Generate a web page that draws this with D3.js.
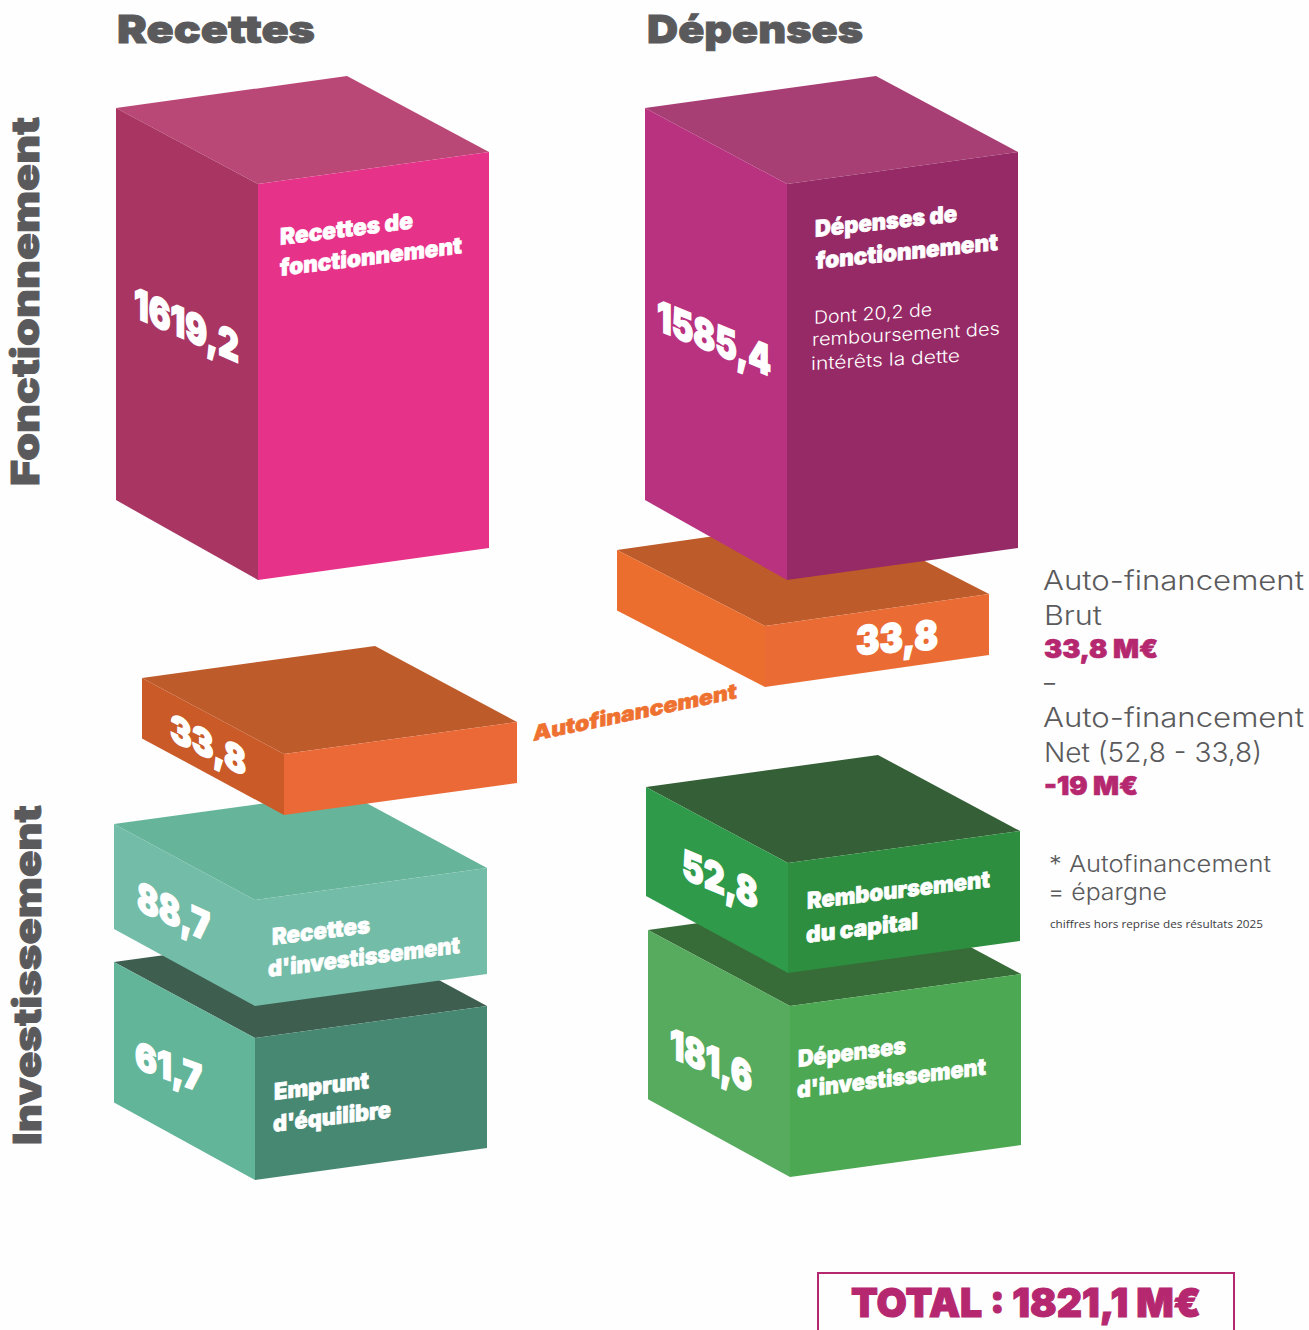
<!DOCTYPE html>
<html lang="fr">
<head>
<meta charset="utf-8">
<title>Recettes et dépenses</title>
<script src="https://cdn.jsdelivr.net/npm/d3@7"></script>
<style>
  html, body { margin: 0; background: #fefefe; overflow: hidden; }
  svg { display: block; }
</style>
</head>
<body>
<div id="chart"></div>
<script>
// values (order = paint order, back to front)
const blockNames = ["Emprunt", "RecettesInv", "AutofinR", "DepensesInv", "Remboursement", "AutofinD", "DepensesFonct", "RecettesFonct"];
const blockValues = [61.7, 88.7, 33.8, 181.6, 52.8, 33.8, 1585.4, 1619.2];
const totalValue = 1821.1;
const columnTitles = ["Recettes", "Dépenses"];
const rowTitles = ["Fonctionnement", "Investissement"];
const sideBrut = ["Auto-financement", "Brut", "33,8 M€"];
const sideNet = ["Auto-financement", "Net (52,8 - 33,8)", "-19 M€"];
const sideNote = ["* Autofinancement", "= épargne", "chiffres hors reprise des résultats 2025"];

// the blocks in the picture are not to scale, so the height scale is piecewise
const heightStops = [33.8, 52.8, 61.7, 88.7, 181.6, 1585.4, 1619.2];
const heightPixels = [61, 110, 142, 106, 171, 396, 396];

// front bottom corner of each block, and how far its two sides run
const frontX = [255, 255, 284, 790, 788, 765, 787, 258];
const frontY = [1180, 1006, 815, 1177, 973, 687, 580, 580];
const leftRuns = [141, 141, 142, 142, 142, 148, 142, 142];
const rightRuns = [232, 232, 233, 231, 232, 224, 231, 231];

const topColors = ["#3e5e50", "#66b59a", "#bd5b2a", "#376b37", "#355f36", "#bd5b2a", "#a73f74", "#ba4877"];
const leftColors = ["#62b599", "#73bca8", "#ca5a28", "#57ab5e", "#2f9a49", "#eb6e2e", "#b93280", "#a83562"];
const rightColors = ["#478873", "#73bca8", "#ea6937", "#4da853", "#2c8e3e", "#ea6c34", "#962a66", "#e7328a"];

const width = 1309, height = 1330;
const leftRise = -76, rightRise = -32, leftTaper = 0.99;
const heavy = "Inter, sans-serif", light = "Inter, sans-serif";
const grey = "#5a5a5c", plum = "#b5286f", white = "#ffffff";

const fr = d3.formatLocale({ decimal: ",", thousands: "", grouping: [3], currency: ["", " M€"] });
const fmt = fr.format(".1f");

const heightScale = d3.scaleLinear().domain(heightStops).range(heightPixels);
const xScale = d3.scaleOrdinal(blockNames, frontX);
const yScale = d3.scaleOrdinal(blockNames, frontY);
const leftRun = d3.scaleOrdinal(blockNames, leftRuns);
const rightRun = d3.scaleOrdinal(blockNames, rightRuns);
const topColor = d3.scaleOrdinal(blockNames, topColors);
const leftColor = d3.scaleOrdinal(blockNames, leftColors);
const rightColor = d3.scaleOrdinal(blockNames, rightColors);

const svg = d3.select("#chart").append("svg")
  .attr("width", width)
  .attr("height", height)
  .attr("viewBox", "0 0 " + width + " " + height);

const blocks = blockNames.map((name, i) => ({ name: name, value: blockValues[i] }));
const line = d3.line();

function faces(d) {
  const x = xScale(d.name), y = yScale(d.name), h = heightScale(d.value);
  const ft = [x, y - h], fb = [x, y];
  const lt = [x - leftRun(d.name), y - h + leftRise];
  const rt = [x + rightRun(d.name), y - h + rightRise];
  const bk = [lt[0] + rightRun(d.name), lt[1] + rightRise];
  const lb = [lt[0], lt[1] + h * leftTaper];
  const rb = [rt[0], rt[1] + h];
  return { top: [ft, lt, bk, rt], left: [ft, lt, lb, fb], right: [ft, rt, rb, fb] };
}

const blockG = svg.selectAll("g.block")
  .data(blocks)
  .join("g")
  .attr("class", "block");

blockG.append("path")
  .attr("d", d => line(faces(d).top) + "Z")
  .attr("fill", d => topColor(d.name));
blockG.append("path")
  .attr("d", d => line(faces(d).left) + "Z")
  .attr("fill", d => leftColor(d.name));
blockG.append("path")
  .attr("d", d => line(faces(d).right) + "Z")
  .attr("fill", d => rightColor(d.name));

// text painted on the faces: [text, x, y, slope, width, size]
const v = name => fmt(blockValues[blockNames.indexOf(name)]);
const faceLabels = [
  ["Recettes de", 280, 245, -0.125, 133, 23],
  ["fonctionnement", 280, 276, -0.125, 182, 23],
  [v("RecettesFonct"), 134, 317, 0.44, 105, 42],
  ["Dépenses de", 815, 237, -0.11, 142, 23],
  ["fonctionnement", 816, 269, -0.105, 182, 23],
  [v("DepensesFonct"), 657, 330, 0.41, 114, 42],
  [v("AutofinR"), 170, 740, 0.48, 76, 38],
  [v("AutofinD"), 856, 655, -0.075, 82, 40],
  [v("RecettesInv"), 137, 910, 0.45, 73, 41],
  ["Recettes", 272, 945, -0.125, 98, 23],
  ["d'investissement", 268, 977, -0.125, 192, 23],
  [v("Emprunt"), 135, 1068, 0.37, 67, 38],
  ["Emprunt", 274, 1100, -0.125, 95, 23],
  ["d'équilibre", 273, 1132, -0.125, 118, 23],
  [v("Remboursement"), 682, 878, 0.42, 76, 41],
  ["Remboursement", 807, 909, -0.12, 183, 23],
  ["du capital", 806, 943, -0.125, 112, 23],
  [v("DepensesInv"), 670, 1057, 0.44, 82, 41],
  ["Dépenses", 798, 1067, -0.125, 108, 23],
  ["d'investissement", 797, 1098, -0.125, 189, 23]
];

svg.append("g").selectAll("text")
  .data(faceLabels)
  .join("text")
  .attr("transform", d => "matrix(1," + d[3] + ",0,1," + d[1] + "," + d[2] + ")")
  .attr("font-family", heavy)
  .attr("font-weight", 900)
  .attr("font-size", d => d[5])
  .attr("fill", white)
  .attr("stroke", white)
  .attr("stroke-width", d => d[5] > 30 ? 1.5 : 0.7)
  .attr("textLength", d => d[4])
  .attr("lengthAdjust", "spacingAndGlyphs")
  .text(d => d[0]);

// light note on the plum face
const noteLines = [
  ["Dont 20,2 de", 814, 324, -0.07, 118],
  ["remboursement des", 812, 346, -0.06, 188],
  ["intérêts la dette", 811, 370, -0.055, 149]
];
svg.append("g").selectAll("text")
  .data(noteLines)
  .join("text")
  .attr("transform", d => "matrix(1," + d[3] + ",0,1," + d[1] + "," + d[2] + ")")
  .attr("font-family", light)
  .attr("font-weight", 300)
  .attr("font-size", 18)
  .attr("fill", white)
  .attr("textLength", d => d[4])
  .attr("lengthAdjust", "spacingAndGlyphs")
  .text(d => d[0]);

// Autofinancement, between the two orange blocks
svg.append("text")
  .attr("transform", "matrix(1,-0.21,0,1,533,741)")
  .attr("font-family", heavy)
  .attr("font-weight", 900)
  .attr("font-size", 21)
  .attr("fill", "#ee7130")
  .attr("stroke", "#ee7130")
  .attr("stroke-width", 0.6)
  .attr("textLength", 204)
  .attr("lengthAdjust", "spacingAndGlyphs")
  .text("Autofinancement");

// column and row titles
const titleX = d3.scalePoint().domain(columnTitles).range([117, 647]);
svg.selectAll("text.col")
  .data(columnTitles)
  .join("text")
  .attr("class", "col")
  .attr("x", d => titleX(d))
  .attr("y", 43)
  .attr("font-family", heavy)
  .attr("font-weight", 900)
  .attr("font-size", 39)
  .attr("fill", grey)
  .attr("stroke", grey)
  .attr("stroke-width", 0.9)
  .attr("textLength", (d, i) => [198, 216][i])
  .attr("lengthAdjust", "spacingAndGlyphs")
  .text(d => d);

svg.selectAll("text.row")
  .data(rowTitles)
  .join("text")
  .attr("class", "row")
  .attr("transform", (d, i) => "translate(" + [39, 41][i] + "," + [486, 1145][i] + ") rotate(-90)")
  .attr("font-family", heavy)
  .attr("font-weight", 900)
  .attr("font-size", 39)
  .attr("fill", grey)
  .attr("stroke", grey)
  .attr("stroke-width", 0.9)
  .attr("textLength", (d, i) => [369, 340][i])
  .attr("lengthAdjust", "spacingAndGlyphs")
  .text(d => d);

// side notes: [text, x, y, width, size, weight, colour]
const sideLabels = [
  [sideBrut[0], 1043, 590, 261, 27, 300, grey],
  [sideBrut[1], 1044, 625, 58, 27, 300, grey],
  [sideBrut[2], 1044, 658, 114, 26, 900, plum],
  ["–", 1044, 692, 11, 27, 300, grey],
  [sideNet[0], 1043, 727, 261, 27, 300, grey],
  [sideNet[1], 1044, 762, 218, 27, 300, grey],
  [sideNet[2], 1044, 795, 94, 26, 900, plum],
  [sideNote[0], 1049, 872, 222, 23, 300, grey],
  [sideNote[1], 1048, 900, 119, 23, 300, grey]
];
svg.append("g").selectAll("text")
  .data(sideLabels)
  .join("text")
  .attr("x", d => d[1])
  .attr("y", d => d[2])
  .attr("font-family", light)
  .attr("font-weight", d => d[5])
  .attr("font-size", d => d[4])
  .attr("fill", d => d[6])
  .attr("stroke", d => d[5] === 900 ? d[6] : "none")
  .attr("stroke-width", 0.7)
  .attr("textLength", d => d[3])
  .attr("lengthAdjust", "spacingAndGlyphs")
  .text(d => d[0]);

svg.append("text")
  .attr("x", 1050)
  .attr("y", 928)
  .attr("font-family", "'Open Sans', sans-serif")
  .attr("font-size", 11.5)
  .attr("fill", "#3c3c3e")
  .attr("textLength", 213)
  .attr("lengthAdjust", "spacingAndGlyphs")
  .text(sideNote[2]);

// total box runs off the bottom edge
svg.append("rect")
  .attr("x", 818)
  .attr("y", 1273)
  .attr("width", 416)
  .attr("height", 80)
  .attr("fill", "none")
  .attr("stroke", plum)
  .attr("stroke-width", 2);

svg.append("text")
  .attr("x", 851)
  .attr("y", 1317)
  .attr("font-family", heavy)
  .attr("font-weight", 900)
  .attr("font-size", 40)
  .attr("fill", plum)
  .attr("stroke", plum)
  .attr("stroke-width", 1.1)
  .attr("textLength", 350)
  .attr("lengthAdjust", "spacingAndGlyphs")
  .text("TOTAL : " + fmt(totalValue) + " M€");
</script>
</body>
</html>
